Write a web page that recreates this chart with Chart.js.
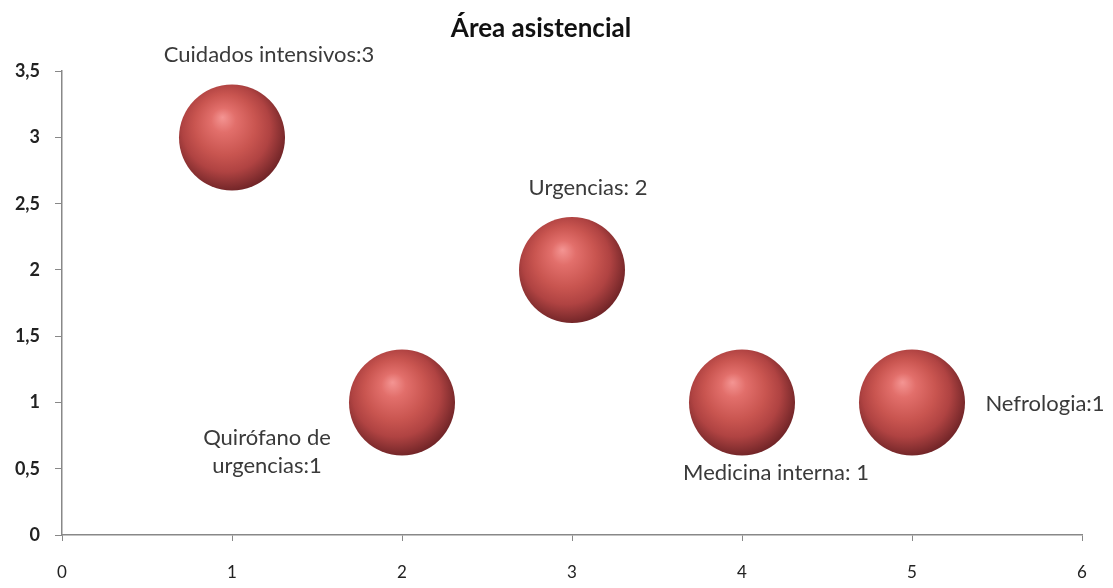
<!DOCTYPE html>
<html>
<head>
<meta charset="utf-8">
<script src="https://cdn.jsdelivr.net/npm/chart.js@4/dist/chart.umd.min.js"></script>
<style>
  html, body { margin: 0; padding: 0; background: #fff; }
  #wrap { width: 1113px; height: 588px; }
</style>
</head>
<body>
<div id="wrap"><canvas id="bubbleChart"></canvas></div>
<script>
"use strict";

// data
var areas = [ "Cuidados intensivos", "Quirófano de urgencias", "Urgencias", "Medicina interna", "Nefrologia" ];
var xValues = [ 1, 2, 3, 4, 5 ];
var yValues = [ 3, 1, 2, 1, 1 ];
var labelTexts = [ [ "Cuidados intensivos:3" ], [ "Quirófano de", "urgencias:1" ], [ "Urgencias: 2" ], [ "Medicina interna: 1" ], [ "Nefrologia:1" ] ];
var yTicks = [ 0, 0.5, 1, 1.5, 2, 2.5, 3, 3.5 ];

// label offsets from bubble centre (px)
var labelOffsets = [ [ 37, -83 ], [ -135, 35 ], [ 16, -82 ], [ 34, 70 ], [ 133, 1 ] ];

var points = xValues.map( function ( x, i ) { return { x: x, y: yValues[ i ] }; } );

// don't let the big bubbles push the axes inwards
Chart.BubbleController.prototype.getMaxOverflow = function () { return false; };

var R = 53;

function sphere( context ) {
    var chart = context.chart;
    if ( !chart.chartArea || !context.raw ) return "#c0504d";
    var c = chart.ctx;
    var px = chart.scales.x.getPixelForValue( context.raw.x );
    var py = chart.scales.y.getPixelForValue( context.raw.y );
    var g = c.createRadialGradient( px - R * 0.18, py - R * 0.38, 0, px - R * 0.08, py - R * 0.1, R * 1.15 );
    g.addColorStop( 0, "#f49593" );
    g.addColorStop( 0.2, "#e26f6b" );
    g.addColorStop( 0.5, "#c95550" );
    g.addColorStop( 0.72, "#b04342" );
    g.addColorStop( 0.86, "#8e3334" );
    g.addColorStop( 1, "#6c2225" );
    return g;
}

var labelPlugin = {
    id: "bubbleLabels",
    afterDatasetsDraw: function ( chart ) {
        var c = chart.ctx;
        var meta = chart.getDatasetMeta( 0 );
        c.save();
        c.font = "22px Lato, sans-serif";
        c.fillStyle = "#3a3a3a";
        c.textAlign = "center";
        c.textBaseline = "middle";
        meta.data.forEach( function ( el, i ) {
            var lines = labelTexts[ i ];
            var ox = labelOffsets[ i ][ 0 ], oy = labelOffsets[ i ][ 1 ];
            lines.forEach( function ( t, k ) {
                c.fillText( t, el.x + ox, el.y + oy + k * 28 );
            });
        });
        c.restore();
    }
};

var ctx = document.getElementById( "bubbleChart" );
var myChart = new Chart( ctx, {
    type: 'bubble',
    data: {
        datasets: [
            {
                label: "Área asistencial",
                data: points,
                radius: R,
                hoverRadius: 0,
                borderWidth: 0,
                backgroundColor: sphere,
                hoverBackgroundColor: sphere
            }
        ]
    },
    options: {
        responsive: true,
        maintainAspectRatio: false,
        animation: false,
        events: [],
        clip: false,
        layout: {
            padding: { top: 0, left: 0, right: 31, bottom: 6 }
        },
        plugins: {
            legend: { display: false },
            tooltip: { enabled: false },
            title: {
                display: true,
                text: "Área asistencial",
                color: "#111",
                font: { family: "Lato, sans-serif", size: 26, weight: "bold" },
                padding: { top: 13, bottom: 27 }
            }
        },
        scales: {
            x: {
                type: 'linear',
                min: 0,
                max: 6,
                afterFit: function ( axis ) { axis.height = 47; },
                ticks: {
                    stepSize: 1,
                    color: "#222",
                    font: { family: "Lato, sans-serif", size: 17 },
                    padding: 21
                },
                grid: { drawOnChartArea: false, color: "#888", tickLength: 6 },
                border: { color: "#888", width: 1.5 }
            },
            y: {
                type: 'linear',
                min: 0,
                max: 3.5,
                afterFit: function ( axis ) { axis.width = 62; },
                afterBuildTicks: function ( axis ) {
                    axis.ticks = yTicks.map( function ( v ) { return { value: v }; } );
                },
                ticks: {
                    color: "#222",
                    font: { family: "Lato, sans-serif", size: 18, weight: "bold" },
                    padding: 15,
                    callback: function ( v ) { return String( v ).replace( ".", "," ); }
                },
                grid: { drawOnChartArea: false, color: "#888", tickLength: 7 },
                border: { color: "#888", width: 1.5 }
            }
        }
    },
    plugins: [ labelPlugin ]
});
</script>
</body>
</html>
